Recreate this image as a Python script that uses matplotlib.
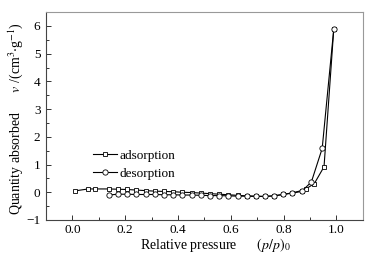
import matplotlib
matplotlib.use("Agg")
import matplotlib.pyplot as plt
from matplotlib.ticker import MultipleLocator

plt.rcParams['font.family'] = ['Liberation Serif', 'DejaVu Serif']
plt.rcParams['mathtext.fontset'] = 'stix'

ads_x = [0.01, 0.06, 0.085, 0.137, 0.172, 0.206, 0.242, 0.277, 0.312, 0.347,
         0.382, 0.416, 0.452, 0.487, 0.522, 0.557, 0.591, 0.626, 0.66, 0.694,
         0.728, 0.763, 0.797, 0.833, 0.868, 0.884, 0.916, 0.953, 0.99]
ads_y = [0.05, 0.12, 0.12, 0.12, 0.11, 0.10, 0.08, 0.06, 0.04, 0.03,
         0.02, 0.0, -0.01, -0.03, -0.05, -0.07, -0.09, -0.11, -0.13, -0.14,
         -0.15, -0.13, -0.08, -0.02, 0.06, 0.12, 0.31, 0.92, 5.9]

des_x = [0.137, 0.172, 0.206, 0.242, 0.277, 0.312, 0.347, 0.382, 0.416, 0.452,
         0.487, 0.522, 0.557, 0.591, 0.626, 0.66, 0.694, 0.728, 0.763, 0.797,
         0.833, 0.868, 0.905, 0.946, 0.99]
des_y = [-0.10, -0.07, -0.07, -0.08, -0.08, -0.08, -0.09, -0.09, -0.10, -0.10,
         -0.11, -0.12, -0.12, -0.13, -0.14, -0.14, -0.15, -0.15, -0.13, -0.08,
         -0.03, 0.03, 0.37, 1.58, 5.9]

fig = plt.figure(figsize=(3.71, 2.57), dpi=100)
ax = fig.add_axes([0.124, 0.144, 0.854, 0.809])

ax.plot(ads_x, ads_y, color='black', lw=0.8, marker='s', ms=3.5,
        mfc='white', mec='black', mew=0.6, label='adsorption')
ax.plot(des_x, des_y, color='black', lw=0.8, marker='o', ms=3.8,
        mfc='white', mec='black', mew=0.6, label='desorption')

ax.set_xlim(-0.1, 1.1)
ax.set_ylim(-1, 6.5)
ax.set_xticks([0.0, 0.2, 0.4, 0.6, 0.8, 1.0])
ax.xaxis.set_minor_locator(MultipleLocator(0.1))
ax.set_yticks([-1, 0, 1, 2, 3, 4, 5, 6])
ax.yaxis.set_minor_locator(MultipleLocator(0.5))
ax.set_xticklabels(['0.0', '0.2', '0.4', '0.6', '0.8', '1.0'])
ax.set_yticklabels(['\u22121', '0', '1', '2', '3', '4', '5', '6'])
ax.tick_params(which='both', direction='in', top=False, right=False,
               labelsize=9.5, width=0.7, colors='#333333', labelcolor='black')
ax.tick_params(which='major', length=3.5)
ax.tick_params(axis='x', which='major', pad=3)
ax.tick_params(axis='y', which='major', pad=4)
ax.tick_params(which='minor', length=2)

for s in ['left', 'bottom']:
    ax.spines[s].set_color('#444444')
    ax.spines[s].set_linewidth(0.8)
for s in ['top', 'right']:
    ax.spines[s].set_color('#999999')
    ax.spines[s].set_linewidth(0.8)

ax.set_xlabel('Relative pressure      $(p/p)_0$', fontsize=10)
ax.set_ylabel('Quantity absorbed      $v$ /(cm$^3$$\\cdot$g$^{-1}$)', fontsize=10)
ax.xaxis.set_label_coords(0.535, -0.075)
ax.yaxis.set_label_coords(-0.066, 0.49)

ax.legend(loc='upper left', bbox_to_anchor=(0.148, 0.34), frameon=False,
          fontsize=9.5, handlelength=1.8, handletextpad=0.25, labelspacing=0.45,
          borderpad=0, borderaxespad=0)

fig.savefig('out.png', dpi=100)
